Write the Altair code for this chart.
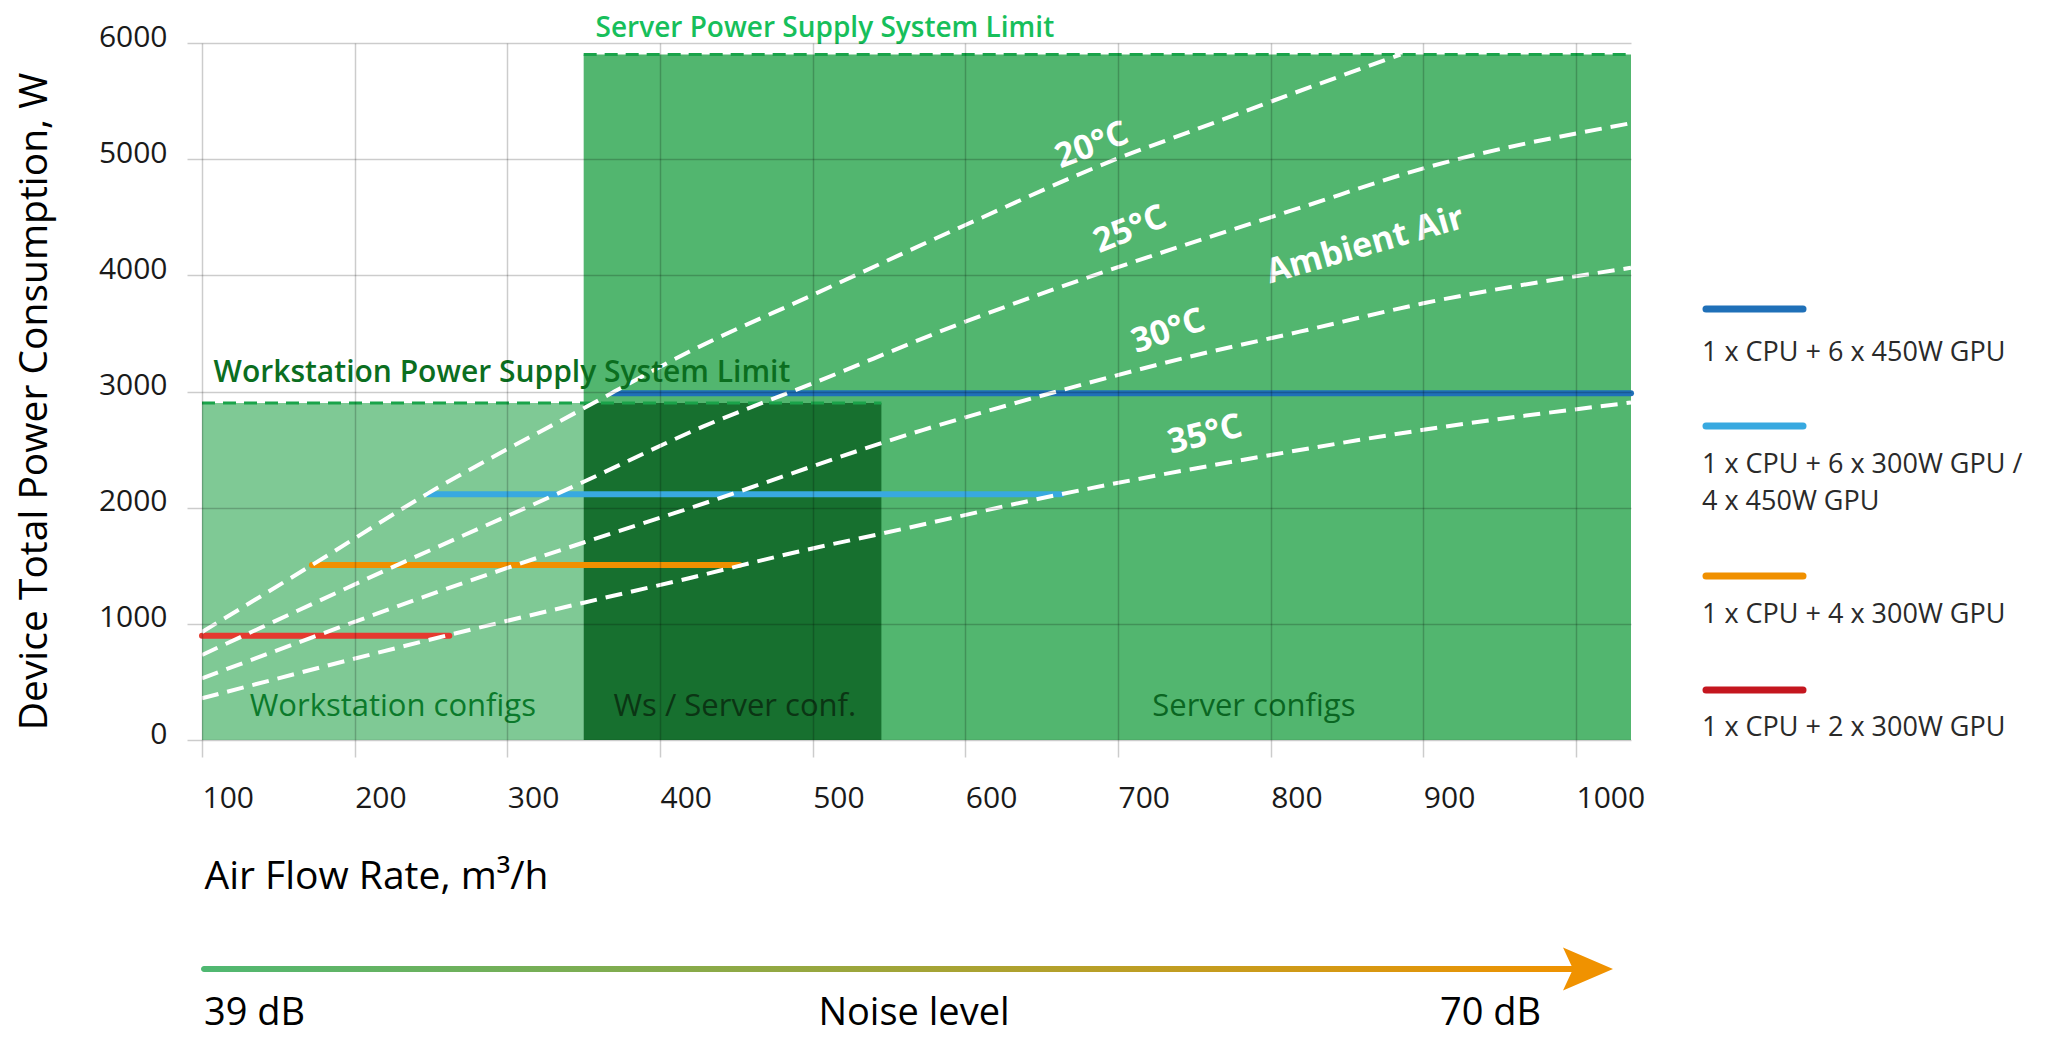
import altair as alt
import pandas as pd

FONT = "Open Sans"

# ---------------- data ----------------
x_ticks = [100, 200, 300, 400, 500, 600, 700, 800, 900, 1000]
y_ticks = [0, 1000, 2000, 3000, 4000, 5000, 6000]
x_domain = [100, 1036]
y_domain = [0, 6000]

# temperature curves (air flow m3/h -> power W)
curve_names = ["20°C", "25°C", "30°C", "35°C"]
flow_20 = [100, 172, 248, 350, 419, 500, 600, 700, 747, 830, 885]
power_20 = [930, 1506, 2123, 2855, 3342, 3831, 4433, 5007, 5236, 5640, 5900]
flow_25 = [100, 223, 350, 428, 500, 600, 701, 747, 819, 900, 1036]
power_25 = [732, 1477, 2223, 2697, 3070, 3601, 4075, 4275, 4580, 4921, 5310]
flow_30 = [100, 299, 350, 419, 572, 660, 747, 819, 900, 1036]
power_30 = [531, 1477, 1700, 1994, 2668, 3000, 3300, 3515, 3759, 4065]
flow_35 = [100, 262, 350, 419, 491, 546, 663, 800, 900, 1036]
power_35 = [359, 905, 1182, 1393, 1623, 1779, 2117, 2453, 2670, 2905]

# configurations
config_names = [
    "1 x CPU + 6 x 450W GPU",
    "1 x CPU + 6 x 300W GPU /\n4 x 450W GPU",
    "1 x CPU + 4 x 300W GPU",
    "1 x CPU + 2 x 300W GPU",
]
config_power = [2985, 2115, 1506, 897]
config_flow_start = [369, 248, 172, 100]
config_flow_end = [1036, 663, 452, 262]
config_line_colors = ["#1f70b8", "#38a9e0", "#f09000", "#e5392f"]
config_legend_colors = ["#1f70b8", "#38a9e0", "#f09000", "#c4161f"]

# zones
zone_names = ["Workstation configs", "Server configs", "Ws / Server conf."]
zone_flow_start = [100, 350, 350]
zone_flow_end = [350, 1036, 545]
zone_power_top = [2900, 5900, 2900]
zone_colors = ["#7fc995", "#52b66f", "#17702f"]
zone_label_flow = [225, 789, 449]
zone_label_power = [207, 207, 207]
zone_label_colors = ["#0b7a2b", "#0a6622", "#0b3514"]

# power supply limits
limit_names = ["Workstation Power Supply System Limit", "Server Power Supply System Limit"]
limit_power = [2900, 5900]
limit_flow_start = [100, 350]
limit_flow_end = [545, 1036]
limit_label_flow = [107.6, 357.8]
limit_label_power = [3082, 6055]
limit_label_colors = ["#0b6e1f", "#17bf5b"]

# curve labels
temp_label_text = ["20°C", "25°C", "Ambient Air", "30°C", "35°C"]
temp_label_flow = [683, 708, 862, 733, 757]
temp_label_power = [5115, 4390, 4255, 3515, 2625]
temp_label_angle = [339, 338, 344, 341, 346]

noise_labels = ["39 dB", "Noise level", "70 dB"]

# ---------------- layout constants (pixels, relative to plot origin) ----------------
LEGEND_LINE_X = (1504, 1601)
LEGEND_LINE_Y = [266, 383, 533, 647]
LEGEND_TEXT_X = 1500
LEGEND_TEXT_Y = [318, 430, 580, 693]
NOISE_Y = 926
NOISE_TEXT_Y = 982
NOISE_TEXT_X = [2, 712, 1238]

# ---------------- frames ----------------
curves = pd.concat([
    pd.DataFrame({"flow": f, "power": p, "curve": n})
    for f, p, n in zip([flow_20, flow_25, flow_30, flow_35],
                       [power_20, power_25, power_30, power_35], curve_names)
])
zones = pd.DataFrame({"zone": zone_names, "flow": zone_flow_start, "flow_end": zone_flow_end,
                      "power": [0, 0, 0], "power_top": zone_power_top, "fill": zone_colors})
zone_labels = pd.DataFrame({"text": zone_names, "flow": zone_label_flow,
                            "power": zone_label_power, "color": zone_label_colors})
limits = pd.DataFrame({"name": limit_names, "flow": limit_flow_start,
                       "flow_end": limit_flow_end, "power": limit_power})
limit_labels_ws = pd.DataFrame({"text": [limit_names[0]], "flow": [limit_label_flow[0]],
                                "power": [limit_label_power[0]], "color": [limit_label_colors[0]]})
limit_labels_sv = pd.DataFrame({"text": [limit_names[1]], "flow": [limit_label_flow[1]],
                                "power": [limit_label_power[1]], "color": [limit_label_colors[1]]})
configs = pd.DataFrame({"name": config_names, "flow": config_flow_start,
                        "flow_end": config_flow_end, "power": config_power,
                        "color": config_line_colors})
temp_labels = pd.DataFrame({"text": temp_label_text, "flow": temp_label_flow,
                            "power": temp_label_power, "angle": temp_label_angle})
legend = pd.DataFrame({"name": config_names, "color": config_legend_colors,
                       "ly": LEGEND_LINE_Y, "ty": LEGEND_TEXT_Y})
noise_side = pd.DataFrame({"text": [noise_labels[0], noise_labels[2]],
                           "tx": [NOISE_TEXT_X[0], NOISE_TEXT_X[2]]})
noise_mid = pd.DataFrame({"text": [noise_labels[1]], "tx": [NOISE_TEXT_X[1]]})

# ---------------- scales / axes ----------------
x_axis = alt.Axis(
    values=x_ticks, format="d", grid=True, gridColor="black", gridOpacity=0.2, gridWidth=1.5,
    tickColor="black", tickOpacity=0.2, tickSize=17, tickWidth=1.5, domain=False,
    labelFont=FONT, labelFontSize=30, labelColor="#1a1a1a", labelAlign="left",
    labelBaseline="alphabetic", labelPadding=50, labelFlush=False, labelOverlap=False,
    title="Air Flow Rate, m³/h", titleFont=FONT, titleFontSize=39, titleFontWeight="normal",
    titleColor="black", titleX=2, titleY=148, titleAlign="left", titleBaseline="alphabetic",
    zindex=1,
)
y_axis = alt.Axis(
    values=y_ticks, format="d", grid=True, gridColor="black", gridOpacity=0.2, gridWidth=1.5,
    tickColor="black", tickOpacity=0.2, tickSize=15, tickWidth=1.5, domain=False,
    labelFont=FONT, labelFontSize=30, labelColor="#1a1a1a", labelBaseline="alphabetic",
    labelOffset=3, labelPadding=20, labelFlush=False, labelOverlap=False,
    title="Device Total Power Consumption, W", titleFont=FONT, titleFontSize=39,
    titleFontWeight="normal", titleColor="black", titleAngle=270, titleX=-168, titleY=358,
    titleAlign="center", titleBaseline="middle",
    zindex=1,
)
xs = alt.Scale(domain=x_domain, nice=False, zero=False)
ys = alt.Scale(domain=y_domain, nice=False, zero=False)
X = alt.X("flow:Q", scale=xs, axis=x_axis)
Y = alt.Y("power:Q", scale=ys, axis=y_axis)

# ---------------- layers ----------------
zone_layer = alt.Chart(zones).mark_rect().encode(
    x=X, x2="flow_end:Q", y=Y, y2="power_top:Q",
    fill=alt.Fill("fill:N", scale=None),
)
limit_layer = alt.Chart(limits).mark_rule(strokeDash=[13, 8], strokeWidth=3, color="#1aa34a").encode(
    x=X, x2="flow_end:Q", y=Y,
)
config_layer = alt.Chart(configs).mark_rule(strokeWidth=6, strokeCap="round").encode(
    x=X, x2="flow_end:Q", y=Y, color=alt.Color("color:N", scale=None),
)
curve_layer = alt.Chart(curves).mark_line(
    color="white", strokeWidth=4, strokeDash=[17, 9], interpolate="monotone"
).encode(x=X, y=Y, detail="curve:N")

zone_text = alt.Chart(zone_labels).mark_text(
    font=FONT, fontSize=31, align="center", baseline="alphabetic"
).encode(x=X, y=Y, text="text:N", color=alt.Color("color:N", scale=None))

limit_text_ws = alt.Chart(limit_labels_ws).mark_text(
    font=FONT, fontSize=30, fontWeight=600, align="left", baseline="alphabetic"
).encode(x=X, y=Y, text="text:N", color=alt.Color("color:N", scale=None))
limit_text_sv = alt.Chart(limit_labels_sv).mark_text(
    font=FONT, fontSize=28, fontWeight=600, align="left", baseline="alphabetic"
).encode(x=X, y=Y, text="text:N", color=alt.Color("color:N", scale=None))

temp_text = alt.Chart(temp_labels).mark_text(
    font=FONT, fontSize=34, fontWeight="bold", color="white", align="center", baseline="middle"
).encode(x=X, y=Y, text="text:N", angle=alt.Angle("angle:Q", scale=None))

# legend (drawn to the right of the plot)
legend_lines = alt.Chart(legend).mark_rule(strokeWidth=7, strokeCap="round").encode(
    x=alt.value(LEGEND_LINE_X[0]), x2=alt.value(LEGEND_LINE_X[1]),
    y=alt.Y("ly:Q", scale=None, axis=None), color=alt.Color("color:N", scale=None),
)
legend_text = alt.Chart(legend).mark_text(
    font=FONT, fontSize=27, color="#2a2a2a", align="left", baseline="alphabetic",
    lineBreak="\n", lineHeight=37,
).encode(x=alt.value(LEGEND_TEXT_X), y=alt.Y("ty:Q", scale=None, axis=None), text="name:N")

# noise arrow
gradient = alt.LinearGradient(
    gradient="linear",
    stops=[alt.GradientStop(color="#4fb872", offset=0),
           alt.GradientStop(color="#f09200", offset=1)],
    x1=0, x2=1, y1=0, y2=0,
)
noise_bar = alt.Chart(pd.DataFrame({"k": [0]})).mark_rect(fill=gradient, cornerRadius=3).encode(
    x=alt.value(-1), x2=alt.value(1374), y=alt.value(NOISE_Y - 3), y2=alt.value(NOISE_Y + 3),
)
noise_head = alt.Chart(pd.DataFrame({"k": [0]})).mark_point(
    shape="M-1,-0.86L1,0L-1,0.86L-0.6,0Z", filled=True, fill="#f09200", opacity=1,
    size=2500, strokeWidth=0,
).encode(x=alt.value(1386), y=alt.value(NOISE_Y))
noise_text_side = alt.Chart(noise_side).mark_text(
    font=FONT, fontSize=38, color="black", baseline="alphabetic", align="left"
).encode(x=alt.X("tx:Q", scale=None, axis=None), y=alt.value(NOISE_TEXT_Y), text="text:N")
noise_text_mid = alt.Chart(noise_mid).mark_text(
    font=FONT, fontSize=38, color="black", baseline="alphabetic", align="center"
).encode(x=alt.X("tx:Q", scale=None, axis=None), y=alt.value(NOISE_TEXT_Y), text="text:N")

chart = alt.layer(
    zone_layer, limit_layer, config_layer, curve_layer,
    zone_text, limit_text_ws, limit_text_sv, temp_text,
    legend_lines, legend_text, noise_bar, noise_head, noise_text_side, noise_text_mid,
).properties(
    width=1429, height=697,
    padding={"left": 194, "top": 35, "right": 405, "bottom": 295},
    autosize=alt.AutoSizeParams(type="none"),
    background="white",
).configure_view(stroke=None)

chart.save("out.html", embed_options={"renderer": "svg", "actions": False})
